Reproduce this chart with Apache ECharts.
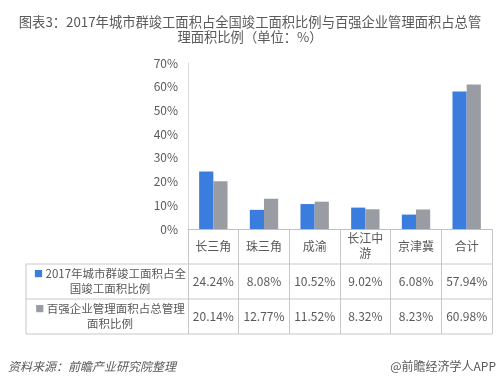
<!DOCTYPE html>
<html><head><meta charset="utf-8">
<script src="https://cdn.jsdelivr.net/npm/echarts@6/dist/echarts.min.js"></script>
<style>html,body{margin:0;padding:0;background:#fff}#c{width:500px;height:381px}</style>
</head><body><div id="c"></div>
<script>
const titleLines = ['图表3：2017年城市群竣工面积占全国竣工面积比例与百强企业管理面积占总管', '理面积比例（单位：%）'];
const categories = ['长三角', '珠三角', '成渝', '长江中\n游', '京津冀', '合计'];
const seriesNames = ['2017年城市群竣工面积占全国竣工面积比例', '百强企业管理面积占总管理面积比例'];
const rowLabels = ['2017年城市群竣工面积占全\n国竣工面积比例', '百强企业管理面积占总管理\n面积比例'];
const completedShare = [24.24, 8.08, 10.52, 9.02, 6.08, 57.94];
const managedShare = [20.14, 12.77, 11.52, 8.32, 8.23, 60.98];
const yMin = 0, yMax = 70, yStep = 10;
const sourceText = '资料来源：前瞻产业研究院整理';
const brandText = '@前瞻经济学人APP';

const colors = ['#3b7ddd', '#999da3'];
const FONT = '"Noto Sans CJK SC", "Noto Sans", sans-serif';
const chart = echarts.init(document.getElementById('c'), null, {renderer: 'canvas'});
const grid = {left: 188, right: 8, top: 63, bottom: 152};
const option = {
  animation: false,
  textStyle: {fontFamily: FONT},
  title: {
    text: titleLines.join('\n'), left: 'center', top: 9,
    textStyle: {fontSize: 13.3, fontWeight: 'normal', color: '#595959', lineHeight: 15, fontFamily: FONT}
  },
  grid: grid,
  xAxis: {
    type: 'category', data: categories,
    axisLine: {lineStyle: {color: '#bfbfbf'}},
    axisTick: {show: true, length: 105, alignWithLabel: false, lineStyle: {color: '#c8c8c8'}},
    axisLabel: {color: '#595959', fontSize: 12, margin: 17, verticalAlign: 'middle', lineHeight: 15, interval: 0}
  },
  yAxis: {
    type: 'value', min: yMin, max: yMax, interval: yStep,
    axisLine: {show: true, lineStyle: {color: '#d9d9d9'}},
    axisTick: {show: false},
    splitLine: {show: false},
    axisLabel: {formatter: '{value}%', color: '#595959', fontSize: 12, margin: 10}
  },
  series: [
    {name: seriesNames[0], type: 'bar', data: completedShare, itemStyle: {color: colors[0]}, barGap: '0%', barCategoryGap: '44%'},
    {name: seriesNames[1], type: 'bar', data: managedShare, itemStyle: {color: colors[1]}, barGap: '0%', barCategoryGap: '44%'}
  ]
};
chart.setOption(option);

// Build data table under the axis
const xRight = 500 - grid.right;
const tableLeft = 26;
const rowTops = [264, 299, 334];
const lineColor = '#c8c8c8';
const g = [];
rowTops.forEach(y => g.push({type: 'line', shape: {x1: tableLeft, y1: y, x2: xRight, y2: y}, style: {stroke: lineColor, lineWidth: 1}}));
g.push({type: 'line', shape: {x1: tableLeft, y1: rowTops[0], x2: tableLeft, y2: rowTops[2]}, style: {stroke: lineColor, lineWidth: 1}});
const rowsData = [completedShare, managedShare];
rowsData.forEach((arr, r) => {
  const yc = (rowTops[r] + rowTops[r + 1]) / 2;
  arr.forEach((v, i) => {
    const xc = chart.convertToPixel({xAxisIndex: 0}, i);
    g.push({type: 'text', x: xc, y: yc, style: {text: v.toFixed(2) + '%', align: 'center', verticalAlign: 'middle', fill: '#595959', font: '12px ' + FONT}});
  });
  const lines = rowLabels[r].split('\n');
  g.push({type: 'text', x: 110, y: yc, style: {
    text: '{sq|■} ' + lines[0] + '\n' + lines[1], align: 'center', verticalAlign: 'middle', fill: '#595959',
    font: '11.5px ' + FONT, lineHeight: 15,
    rich: {sq: {fill: colors[r], font: '9px ' + FONT}}
  }});
});
g.push({type: 'text', left: 8, top: 360, style: {text: sourceText, fill: '#595959', font: 'italic 12px ' + FONT}});
g.push({type: 'text', right: 4, top: 360, style: {text: brandText, fill: '#595959', font: '12px ' + FONT}});
chart.setOption({graphic: g});
</script></body></html>
